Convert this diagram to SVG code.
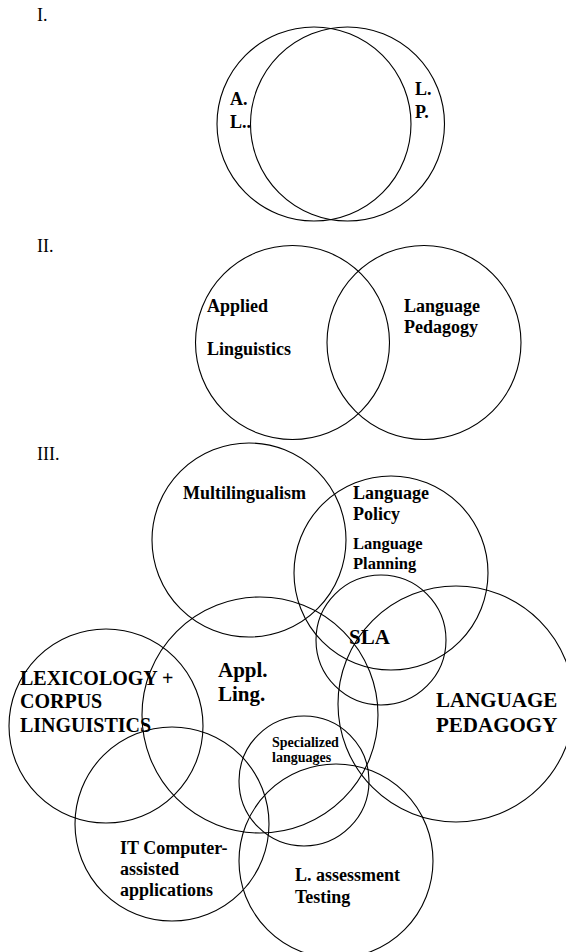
<svg xmlns="http://www.w3.org/2000/svg" width="566" height="952" viewBox="0 0 566 952">
  <style>
    .ring { fill: none; stroke: #000; stroke-width: 1.1; }
    .lbl { font-family: "Liberation Serif", "Times New Roman", serif; font-weight: bold; font-size: 18px; fill: #000; }
    .num { font-family: "Liberation Serif", "Times New Roman", serif; font-size: 18px; fill: #000; }
    .big { font-size: 21px; }
    .lex { font-size: 20px; }
    .mid { font-size: 16.5px; }
    .small { font-size: 14px; }
  </style>
  <rect width="566" height="952" fill="#fff"/>

  <!-- Part I: two nearly coincident fields -->
  <text class="num" x="37" y="21">I.</text>
  <g id="i-applied-linguistics">
    <circle class="ring" cx="314" cy="124" r="97"/>
    <text class="lbl" x="230" y="105">A.</text>
    <text class="lbl" x="230" y="128">L..</text>
  </g>
  <g id="i-language-pedagogy">
    <circle class="ring" cx="347.5" cy="124" r="97"/>
    <text class="lbl" x="415" y="95">L.</text>
    <text class="lbl" x="415" y="118">P.</text>
  </g>

  <!-- Part II: partial overlap -->
  <text class="num" x="37" y="252">II.</text>
  <g id="ii-applied-linguistics">
    <circle class="ring" cx="292.5" cy="342.5" r="97"/>
    <text class="lbl" x="207" y="312">Applied</text>
    <text class="lbl" x="207" y="355">Linguistics</text>
  </g>
  <g id="ii-language-pedagogy">
    <circle class="ring" cx="424" cy="342.5" r="97"/>
    <text class="lbl" x="404" y="312">Language</text>
    <text class="lbl" x="404" y="333">Pedagogy</text>
  </g>

  <!-- Part III: network of neighbouring fields -->
  <text class="num" x="37" y="460">III.</text>
  <g id="multilingualism">
    <circle class="ring" cx="249" cy="540" r="97"/>
    <text class="lbl" x="183" y="499">Multilingualism</text>
  </g>
  <g id="language-policy">
    <circle class="ring" cx="391" cy="573" r="97"/>
    <text class="lbl" x="353" y="499">Language</text>
    <text class="lbl" x="353" y="520">Policy</text>
    <text class="lbl mid" x="353" y="549">Language</text>
    <text class="lbl mid" x="353" y="569">Planning</text>
  </g>
  <g id="sla">
    <circle class="ring" cx="381" cy="640" r="65"/>
  </g>
  <g id="language-pedagogy">
    <circle class="ring" cx="456" cy="704" r="118"/>
    <text class="lbl big" x="436" y="707">LANGUAGE</text>
    <text class="lbl big" x="436" y="732">PEDAGOGY</text>
  </g>
  <g id="applied-linguistics">
    <circle class="ring" cx="260" cy="715" r="118"/>
    <text class="lbl big" x="218" y="677">Appl.</text>
    <text class="lbl big" x="218" y="701">Ling.</text>
  </g>
  <g id="lexicology-corpus">
    <circle class="ring" cx="106" cy="726" r="97"/>
    <text class="lbl lex" x="20" y="685">LEXICOLOGY +</text>
    <text class="lbl lex" x="20" y="708">CORPUS</text>
    <text class="lbl lex" x="20" y="732">LINGUISTICS</text>
  </g>
  <g id="it-applications">
    <circle class="ring" cx="172" cy="824" r="97"/>
    <text class="lbl" x="120" y="854">IT Computer-</text>
    <text class="lbl" x="120" y="875">assisted</text>
    <text class="lbl" x="120" y="896">applications</text>
  </g>
  <g id="specialized-languages">
    <circle class="ring" cx="304" cy="781" r="65"/>
    <text class="lbl small" x="272" y="747">Specialized</text>
    <text class="lbl small" x="272" y="762">languages</text>
  </g>
  <g id="assessment-testing">
    <circle class="ring" cx="336" cy="861" r="97"/>
    <text class="lbl" x="295" y="881">L. assessment</text>
    <text class="lbl" x="295" y="903">Testing</text>
  </g>
  <!-- SLA label sits on top of the crossing rings -->
  <text class="lbl big" x="349" y="644">SLA</text>
</svg>
